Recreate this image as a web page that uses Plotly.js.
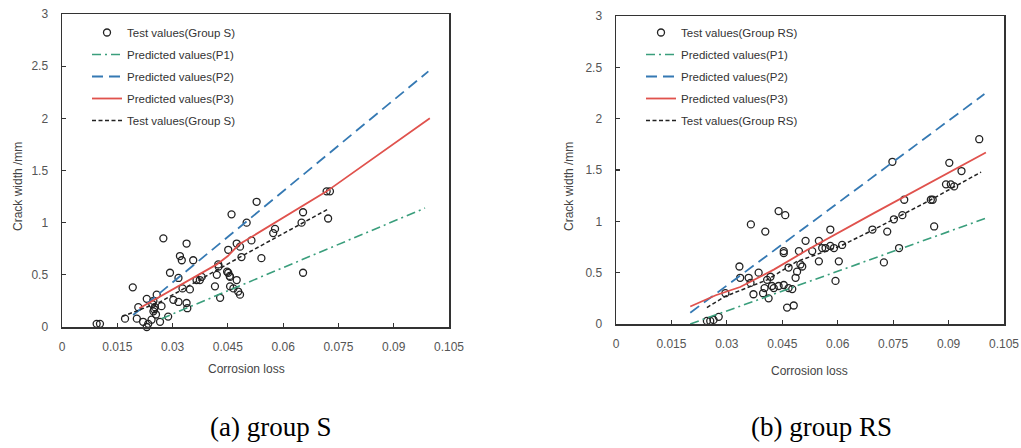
<!DOCTYPE html>
<html>
<head>
<meta charset="utf-8">
<script src="https://cdn.plot.ly/plotly-3.0.1.min.js"></script>
<style>html,body{margin:0;padding:0;background:#fff;}#chart{width:1021px;height:448px;}</style>
</head>
<body>
<div id="chart"></div>
<script>
// ---------- Group S (left) ----------
const sTestX = [0.0094,0.0103,0.0171,0.0192,0.0207,0.0203,0.0220,0.0230,0.0234,0.0243,
                0.0230,0.0248,0.0252,0.0257,0.0266,0.0270,0.0275,0.0288,0.0293,0.0302,
                0.0316,0.0316,0.0320,0.0325,0.0327,0.0338,0.0338,0.0340,0.0347,0.0356,
                0.0365,0.0374,0.0379,0.0415,0.0420,0.0424,0.0429,0.0451,0.0456,0.0456,
                0.0460,0.0451,0.0465,0.0474,0.0474,0.0478,0.0483,0.0483,0.0487,0.0501,
                0.0514,0.0528,0.0541,0.0578,0.0573,0.0654,0.0650,0.0654,0.0718,0.0727,
                0.0722,0.0245,0.0250,0.0255,0.0248,0.0448,0.0455,0.0425];
const sTestY = [0.03,0.03,0.08,0.38,0.19,0.08,0.05,0.00,0.03,0.07,
                0.27,0.15,0.19,0.31,0.05,0.20,0.85,0.10,0.52,0.26,
                0.24,0.47,0.68,0.64,0.37,0.80,0.23,0.18,0.36,0.64,
                0.45,0.45,0.48,0.39,0.50,0.60,0.28,0.52,0.48,0.39,
                1.08,0.74,0.37,0.80,0.45,0.34,0.31,0.77,0.67,1.00,
                0.83,1.20,0.66,0.94,0.90,1.10,1.00,0.52,1.30,1.30,
                1.04,0.22,0.17,0.12,0.25,0.53,0.49,0.58];
const sP1X = [0.0270, 0.0985];
const sP1Y = [0.08, 1.14];
const sP2X = [0.0193, 0.0994];
const sP2Y = [0.115, 2.45];
const sP3X = [0.0210,0.0266,0.0420,0.0450,0.0480,0.0718,0.0998];
const sP3Y = [0.18,0.29,0.60,0.68,0.79,1.30,2.00];
const sFitX = [0.0163,0.0266,0.0483,0.0722];
const sFitY = [0.10,0.24,0.67,1.13];

// ---------- Group RS (right) ----------
const rTestX = [0.0246,0.0255,0.0264,0.0278,0.0296,0.0334,0.0336,0.0359,0.0364,0.0365,
                0.0372,0.0386,0.0398,0.0402,0.0404,0.0409,0.0413,0.0418,0.0422,0.0427,
                0.0440,0.0458,0.0440,0.0454,0.0454,0.0463,0.0481,0.0467,0.0477,0.0486,
                0.0467,0.0495,0.0490,0.0499,0.0504,0.0513,0.0531,0.0549,0.0549,0.0558,
                0.0567,0.0580,0.0590,0.0594,0.0603,0.0612,0.0748,0.0780,0.0775,0.0734,
                0.0694,0.0725,0.0766,0.0752,0.0861,0.0857,0.0852,0.0902,0.0935,0.0893,
                0.0906,0.0915,0.0983,0.0454,0.0580];
const rTestY = [0.03,0.03,0.04,0.07,0.30,0.56,0.45,0.45,0.40,0.97,
                0.29,0.50,0.30,0.35,0.90,0.43,0.25,0.46,0.37,0.35,
                1.10,1.06,0.37,0.38,0.71,0.16,0.18,0.35,0.34,0.45,
                0.55,0.71,0.51,0.58,0.56,0.81,0.71,0.81,0.61,0.74,
                0.74,0.92,0.74,0.42,0.61,0.77,1.58,1.21,1.06,0.90,
                0.92,0.60,0.74,1.02,0.95,1.21,1.21,1.57,1.49,1.36,
                1.36,1.34,1.80,0.69,0.76];
const rP1X = [0.0201, 0.1001];
const rP1Y = [0.00, 1.03];
const rP2X = [0.0201, 0.0997];
const rP2Y = [0.11, 2.24];
const rP3X = [0.0201,0.0270,0.0336,0.0427,0.0517,0.0698,0.1001];
const rP3Y = [0.17,0.28,0.36,0.53,0.72,1.08,1.67];
const rFitX = [0.0246,0.0296,0.0409,0.0490,0.0608,0.0698,0.0852,0.0988];
const rFitY = [0.16,0.27,0.43,0.61,0.76,0.92,1.21,1.48];

// ---------- labels ----------
const xTickVals = [0,0.015,0.03,0.045,0.06,0.075,0.09,0.105];
const xTickText = ['0','0.015','0.03','0.045','0.06','0.075','0.09','0.105'];
const yTickVals = [0,0.5,1,1.5,2,2.5,3];
const yTickText = ['0','0.5','1','1.5','2','2.5','3'];
const namesS = ['Test values(Group S)','Predicted values(P1)','Predicted values(P2)','Predicted values(P3)','Test values(Group S)'];
const namesRS = ['Test values(Group RS)','Predicted values(P1)','Predicted values(P2)','Predicted values(P3)','Test values(Group RS)'];
const xTitle = 'Corrosion loss';
const yTitle = 'Crack width /mm';
const captions = ['(a) group S','(b) group RS'];

const C_GREEN = '#3a9e7c', C_BLUE = '#3579b3', C_RED = '#e0524d', C_BLACK = '#222';

function group(xa, ya, leg, tX, tY, p1x, p1y, p2x, p2y, p3x, p3y, fx, fy, names, gp) {
  const common = {xaxis: xa, yaxis: ya, legend: leg, cliponaxis: false};
  return [
    Object.assign({type:'scatter', mode:'markers', x:tX, y:tY, name:names[0], legendgroup:gp+'a',
      marker:{symbol:'circle-open', size:7, color:C_BLACK, line:{width:1.3, color:C_BLACK}}}, common),
    Object.assign({type:'scatter', mode:'lines', x:p1x, y:p1y, name:names[1], legendgroup:gp+'b',
      line:{color:C_GREEN, width:1.6, dash:'9px,4px,2px,4px'}}, common),
    Object.assign({type:'scatter', mode:'lines', x:p2x, y:p2y, name:names[2], legendgroup:gp+'c',
      line:{color:C_BLUE, width:1.8, dash:'11px,6px'}}, common),
    Object.assign({type:'scatter', mode:'lines', x:p3x, y:p3y, name:names[3], legendgroup:gp+'d',
      line:{color:C_RED, width:1.8}}, common),
    Object.assign({type:'scatter', mode:'lines', x:fx, y:fy, name:names[4], legendgroup:gp+'e',
      line:{color:C_BLACK, width:1.5, dash:'4px,2.5px'}}, common)
  ];
}

const data = [].concat(
  group('x','y','legend', sTestX, sTestY, sP1X, sP1Y, sP2X, sP2Y, sP3X, sP3Y, sFitX, sFitY, namesS, 's'),
  group('x2','y2','legend2', rTestX, rTestY, rP1X, rP1Y, rP2X, rP2Y, rP3X, rP3Y, rFitX, rFitY, namesRS, 'r')
);

const tickFont = {family:'Liberation Sans, Arial, sans-serif', size:12, color:'#555'};
function xax(dom, anchor) {
  return {domain:dom, anchor:anchor, range:[0,0.105], tickvals:xTickVals, ticktext:xTickText,
    ticks:'inside', ticklen:4, tickwidth:1.2, tickcolor:'#333', showline:true, linecolor:'#333',
    linewidth:1.5, mirror:true, showgrid:false, zeroline:false, tickfont:tickFont, ticklabelstandoff:8};
}
function yax(dom, anchor) {
  return {domain:dom, anchor:anchor, range:[0,3], tickvals:yTickVals, ticktext:yTickText,
    ticks:'inside', ticklen:4, tickwidth:1.2, tickcolor:'#333', showline:true, linecolor:'#333',
    linewidth:1.5, mirror:true, showgrid:false, zeroline:false, tickfont:tickFont, ticklabelstandoff:10};
}
const legFont = {family:'Liberation Sans, Arial, sans-serif', size:11.5, color:'#333'};
const W = 1021, H = 448;
const axFont = {family:'Liberation Sans, Arial, sans-serif', size:12, color:'#444'};
const capFont = {family:'Liberation Serif, Times New Roman, serif', size:27, color:'#000'};
function ann(text, px, py, font, angle) {
  return {text:text, xref:'paper', yref:'paper', x:px/W, y:(H-py)/H, xanchor:'center', yanchor:'middle',
    textangle:angle || 0, showarrow:false, font:font};
}
const layout = {
  width:W, height:H, margin:{l:0,r:0,t:0,b:0}, paper_bgcolor:'#fff', plot_bgcolor:'#fff',
  showlegend:true,
  xaxis: xax([62/W, 449/W], 'y'),
  yaxis: yax([(H-327)/H, (H-14)/H], 'x'),
  xaxis2: xax([616/W, 1004/W], 'y2'),
  yaxis2: yax([(H-324)/H, (H-16)/H], 'x2'),
  legend: {x:87/W, y:(H-18)/H, xanchor:'left', yanchor:'top', bgcolor:'rgba(255,255,255,0)',
    font:legFont, traceorder:'grouped', tracegroupgap:3},
  legend2: {x:641/W, y:(H-18)/H, xanchor:'left', yanchor:'top', bgcolor:'rgba(255,255,255,0)',
    font:legFont, traceorder:'grouped', tracegroupgap:3},
  annotations: [
    ann(yTitle, 18, 187, axFont, -90),
    ann(yTitle, 569, 187, axFont, -90),
    ann(xTitle, 246, 369, axFont),
    ann(xTitle, 809, 371, axFont),
    ann(captions[0], 270, 427, capFont),
    ann(captions[1], 821, 427, capFont)
  ]
};
Plotly.newPlot('chart', data, layout, {displayModeBar:false, staticPlot:true});
</script>
</body>
</html>
